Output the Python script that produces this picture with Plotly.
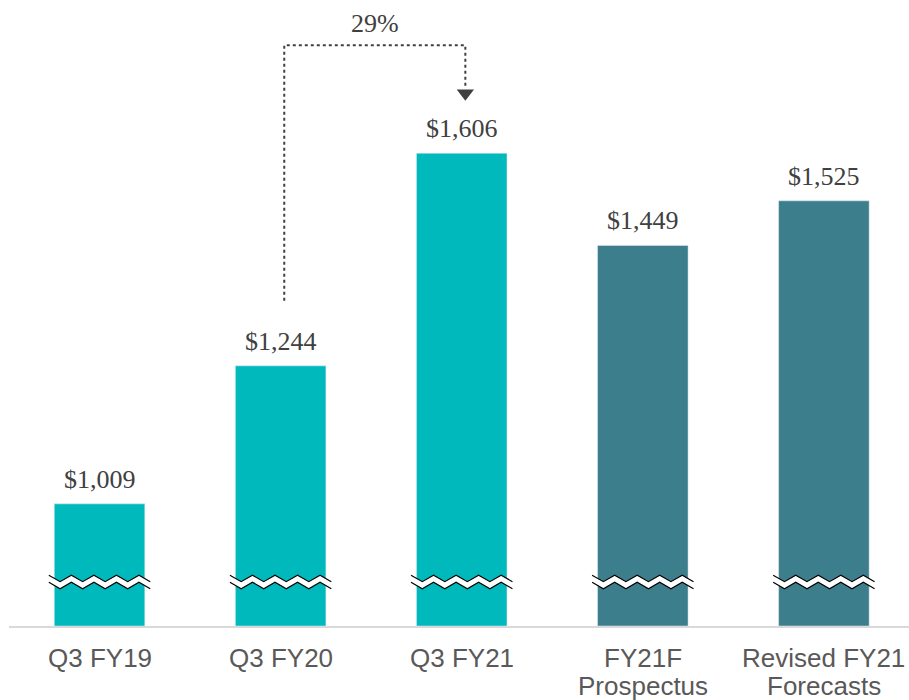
import plotly.graph_objects as go
import numpy as np

categories = ["Q3 FY19", "Q3 FY20", "Q3 FY21", "FY21F\nProspectus", "Revised FY21\nForecasts"]
values = [1009, 1244, 1606, 1449, 1525]
labels = ["$1,009", "$1,244", "$1,606", "$1,449", "$1,525"]
colors = ["#00B9BC", "#00B9BC", "#00B9BC", "#3C7E8C", "#3C7E8C"]
growth_label = "29%"

Y_MIN, Y_MAX = 801, 1867
BREAK_Y = 876        # centre of axis-break zigzag (data units)
ARROW_BASE = 1355
ARROW_TOP = 1790
ARROW_TIP = 1708

x = list(range(len(categories)))
fig = go.Figure()
fig.add_trace(go.Bar(x=x, y=[v - Y_MIN for v in values], marker_color=colors, width=0.5,
                     base=Y_MIN, showlegend=False, hoverinfo="skip"))

# axis-break zigzags
half = 0.28
n_seg = 9
amp = 5.5
gap = 12
for xi in x:
    xs = np.linspace(xi - half, xi + half, n_seg + 1)
    up = np.array([amp if i % 2 == 0 else -amp for i in range(len(xs))])
    top = BREAK_Y + gap / 2 + up
    bot = BREAK_Y - gap / 2 + up
    fig.add_trace(go.Scatter(x=list(xs) + list(xs[::-1]), y=list(top) + list(bot[::-1]),
                             fill="toself", fillcolor="white", mode="lines",
                             line=dict(width=0, color="white"), showlegend=False, hoverinfo="skip"))
    for yy in (top, bot):
        fig.add_trace(go.Scatter(x=xs, y=yy, mode="lines", line=dict(color="black", width=1.2),
                                 showlegend=False, hoverinfo="skip"))

# value labels
for xi, v, t in zip(x, values, labels):
    fig.add_annotation(x=xi, y=v, text=t, showarrow=False, yanchor="bottom", yshift=8,
                       font=dict(family="Liberation Serif", size=26, color="#404040"))

# category labels (tight line spacing, as in the original)
for xi, cat in zip(x, categories):
    for k, line in enumerate(cat.split("\n")):
        fig.add_annotation(x=xi, y=0, yref="paper", text=line, showarrow=False,
                           yanchor="middle", yshift=-32 - 28 * k,
                           font=dict(family="Liberation Sans", size=26, color="#595959"))

# growth arrow
fig.add_trace(go.Scatter(x=[1.02, 1.02, 2.02, 2.02], y=[ARROW_BASE, ARROW_TOP, ARROW_TOP, ARROW_TIP + 8],
                         mode="lines", line=dict(color="#404040", width=2, dash="dot"),
                         showlegend=False, hoverinfo="skip"))
fig.add_trace(go.Scatter(x=[2.02], y=[ARROW_TIP], mode="markers",
                         marker=dict(symbol="triangle-down", size=15, color="#404040"),
                         showlegend=False, hoverinfo="skip"))
fig.add_annotation(x=1.52, y=ARROW_TOP, text=growth_label, showarrow=False, yanchor="bottom", yshift=5,
                   font=dict(family="Liberation Serif", size=26, color="#404040"))

fig.update_layout(
    width=909, height=700, margin=dict(l=9, r=0, t=0, b=74),
    paper_bgcolor="white", plot_bgcolor="white",
    xaxis=dict(range=[-0.5, 4.47], tickvals=x, showticklabels=False, showgrid=False, zeroline=False,
               showline=True, linecolor="#D9D9D9", linewidth=2, ticks="", automargin=False),
    yaxis=dict(range=[Y_MIN, Y_MAX], visible=False, showgrid=False),
)
fig.write_html("out.html")
